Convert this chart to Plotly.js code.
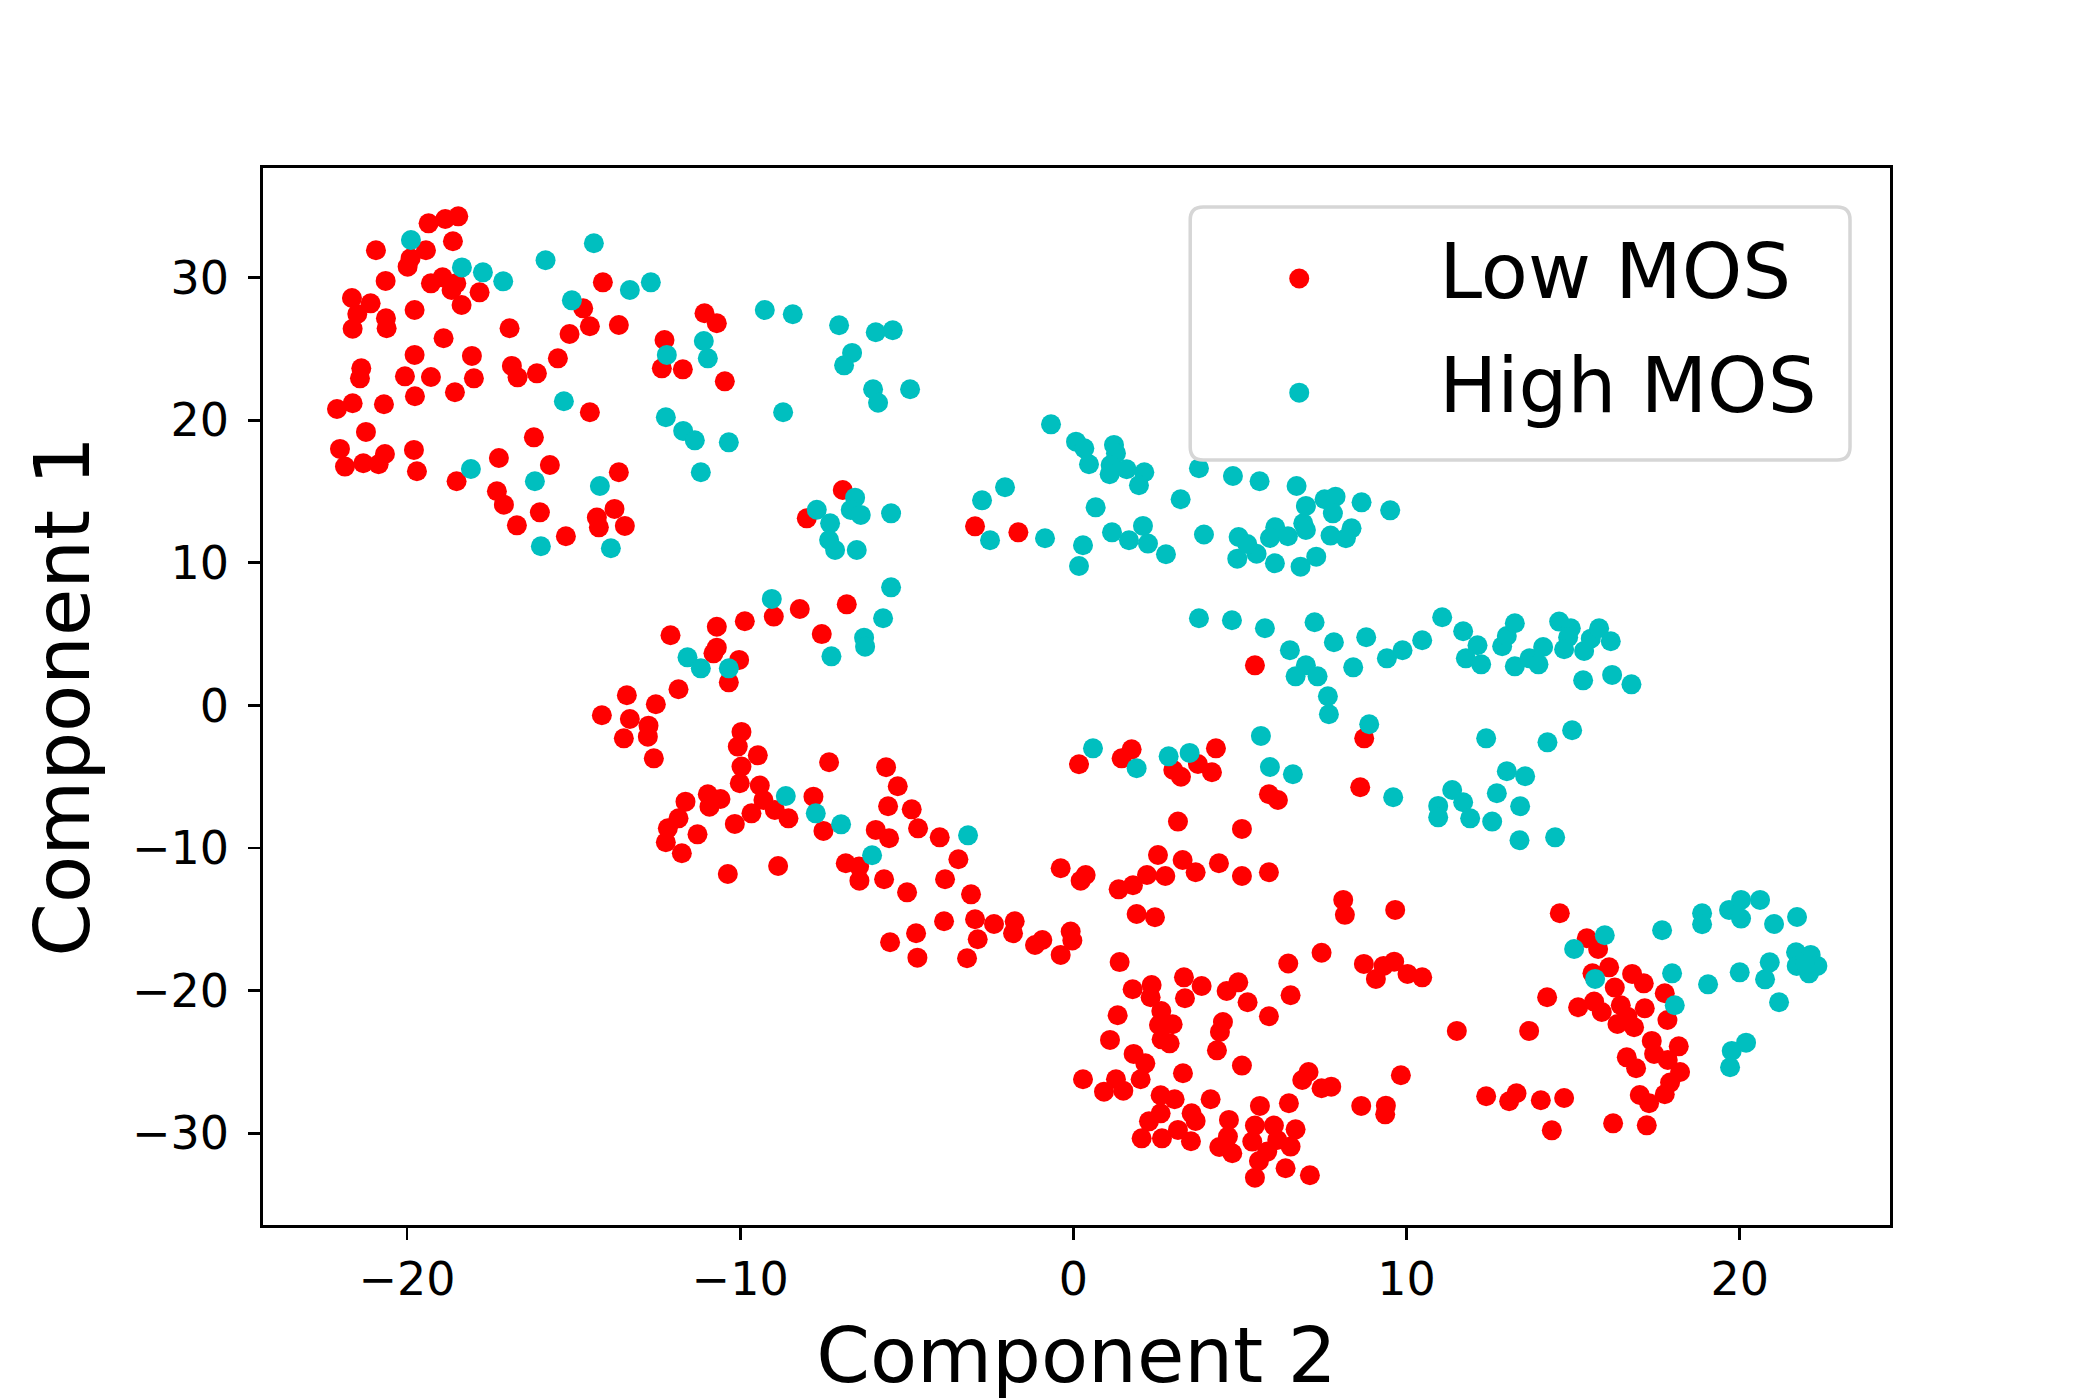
<!DOCTYPE html>
<html>
<head>
<meta charset="utf-8">
<script src="https://cdn.plot.ly/plotly-3.0.1.min.js"></script>
<style>html,body{margin:0;padding:0;background:#fff;}#chart{width:2100px;height:1400px;}</style>
</head>
<body>
<div id="chart"></div>
<script>
// Series names
const seriesNames = ["Low MOS", "High MOS"];
const seriesColors = ["#ff0000", "#00bfbf"];

// Low MOS points (Component 2 = x, Component 1 = y)
const lowX = [
-19.35,-18.85,-18.46,-18.62,-20.93,-19.43,-19.89,-19.98,-20.64,-19.28,-18.93,-18.52,-18.66,-17.82,-18.36,-21.65,-21.09,-21.49,-20.63,-21.63,
-20.61,-19.77,-18.90,-16.92,-14.71,-14.12,-14.51,-15.12,-13.64,-15.47,-18.05,-19.77,-21.37,-21.41,-20.06,-19.28,-17.99,-16.85,-16.68,-16.10,
-19.76,-18.56,-21.63,-22.10,-20.69,-14.51,-12.27,-11.07,-10.70,-12.35,-11.72,-10.46,-21.23,-22.01,-20.66,-21.86,-21.31,-20.85,-19.79,-19.70,
-16.19,-17.24,-15.71,-18.51,-17.30,-17.09,-16.01,-16.70,-15.23,-13.64,-14.30,-14.24,-13.77,-13.46,-8.00,
-6.92,-2.95,-1.65,
-8.99,-8.21,-9.86,-10.70,-12.09,-10.70,-10.80,-10.03,-10.34,-11.85,-13.40,-12.53,-14.15,-13.31,-12.75,-12.77,-13.49,-12.59,-9.96,-10.07,
-9.47,-9.96,-10.01,-9.41,-9.30,-8.96,-8.55,-9.66,-10.16,-10.97,-10.59,-10.92,-11.64,-11.85,-12.17,-12.23,-11.75,-11.28,-10.37,-8.86,
-7.80,-7.50,-7.55,
-6.80,5.45,-7.33,-5.62,-5.27,-5.56,-4.85,-5.93,-5.53,-4.66,-4.01,-3.45,-6.83,-6.43,-6.42,-5.68,-4.99,-3.85,-3.07,-3.88,
-2.95,-2.38,-1.76,-1.81,-2.87,-4.72,-5.50,-4.68,-3.19,-1.15,-0.93,-0.08,-0.03,-0.38,1.39,6.45,7.45,8.10,8.15,
0.17,1.45,1.75,3.00,3.23,3.74,4.16,4.28,5.87,6.14,3.14,5.06,-0.38,0.37,0.22,1.36,1.79,2.21,2.54,2.76,
3.28,3.67,4.37,5.06,5.87,1.90,2.45,
8.73,8.61,9.66,14.60,15.41,15.75,
6.52,1.78,2.35,2.32,3.32,3.35,3.85,4.60,4.95,5.23,5.87,1.33,2.64,2.57,2.98,2.65,2.89,1.10,4.49,4.40,
4.31,5.06,1.81,2.16,2.02,3.29,0.29,1.28,0.92,1.50,2.62,3.04,4.12,2.62,2.27,2.05,2.66,3.14,3.53,3.55,
3.67,4.67,4.64,4.38,4.77,5.45,5.37,6.02,5.82,6.12,6.52,6.67,5.57,5.45,6.37,7.10,5.60,6.47,6.87,7.06,
7.45,7.74,
8.72,9.31,9.63,9.08,10.03,10.47,11.51,13.68,9.83,8.64,9.38,9.36,12.39,13.08,13.30,14.03,14.73,14.36,14.22,15.15,
15.63,15.86,15.58,16.08,16.25,16.77,17.12,17.75,16.43,17.15,16.63,16.33,16.83,17.83,17.36,18.17,17.43,17.84,16.61,16.89,
18.21,17.91,17.75,17.00,17.28,16.20,17.21
];
const lowY = [
33.81,34.11,34.30,32.55,31.92,31.92,31.36,30.77,29.77,29.60,30.02,29.60,29.13,28.97,28.08,28.57,28.20,27.45,27.15,26.42,
26.45,27.73,25.75,26.45,27.85,29.67,26.59,26.05,26.68,24.34,24.51,24.58,23.64,22.94,23.08,23.03,22.94,23.81,23.01,23.29,
21.68,21.96,21.19,20.79,21.12,20.56,25.63,27.50,26.80,23.64,23.57,22.73,19.18,17.99,17.63,16.75,16.98,16.91,17.92,16.42,
18.80,17.35,16.86,15.72,15.02,14.08,13.54,12.63,11.86,16.35,13.17,12.49,13.78,12.59,13.12,
15.11,12.56,12.14,
6.23,6.76,5.90,5.52,4.92,4.05,3.65,3.19,1.62,1.13,0.71,0.08,-0.69,-0.95,-1.42,-2.19,-2.31,-3.71,-1.86,-2.89,
-3.50,-4.29,-5.46,-5.62,-6.63,-7.33,-7.92,-7.57,-8.31,-6.23,-6.56,-7.10,-6.75,-7.92,-8.62,-9.60,-10.37,-9.04,-11.82,-11.26,
-6.40,-8.80,5.00,
7.09,2.81,-3.99,-4.34,-5.67,-7.07,-7.29,-8.73,-9.32,-8.62,-9.25,-10.79,-11.07,-11.30,-12.29,-12.19,-13.11,-12.19,-13.25,-15.14,
-15.00,-15.33,-15.14,-15.98,-16.40,-15.98,-16.61,-17.69,-17.73,-16.80,-16.45,-15.86,-16.49,-17.50,-18.00,-18.10,-17.35,-13.64,-14.69,
-4.13,-3.71,-3.08,-4.53,-5.00,-4.11,-4.69,-3.01,-6.23,-6.63,-8.15,-8.66,-11.42,-11.89,-12.29,-12.90,-12.61,-11.89,-10.49,-11.96,
-10.84,-11.70,-11.07,-11.96,-11.70,-14.63,-14.86,
-2.31,-5.74,-14.34,-14.58,-16.33,-17.08,
-20.33,-19.91,-19.61,-20.47,-19.07,-20.54,-19.68,-20.03,-19.42,-20.82,-21.80,-21.73,-21.43,-22.41,-22.36,-23.42,-23.70,-23.46,-22.20,-22.90,
-24.19,-25.26,-24.44,-25.10,-26.22,-25.80,-26.22,-26.22,-27.09,-27.02,-27.34,-27.62,-27.62,-28.61,-29.17,-30.36,-30.36,-29.77,-30.57,-28.61,
-29.14,-29.07,-30.24,-30.97,-31.41,-29.47,-30.59,-29.47,-31.29,-30.47,-30.94,-29.73,-31.95,-33.12,-32.46,-32.95,-28.09,-27.90,-26.27,-25.71,
-26.85,-26.74,
-18.13,-18.27,-17.97,-19.18,-18.83,-19.07,-22.83,-22.83,-25.94,-28.09,-28.07,-28.68,-27.41,-27.76,-27.20,-27.69,-27.53,-29.80,-20.47,-21.17,
-20.77,-21.50,-18.79,-18.37,-19.79,-18.83,-19.49,-20.19,-21.03,-21.24,-21.83,-22.34,-22.57,-22.06,-23.53,-23.91,-24.44,-24.87,-24.68,-25.45,
-25.71,-26.45,-27.27,-27.32,-27.90,-29.31,-29.45
];

// High MOS points
const highX = [
-19.88,-18.35,-17.72,-17.11,-15.84,-14.39,-15.05,-13.31,-12.68,-11.09,-12.20,-10.97,-9.26,-8.42,-15.29,-8.71,-12.23,-11.71,-11.36,-10.34,
-11.18,-18.08,-16.16,-14.21,-15.98,-13.88,
-7.03,-5.93,-5.42,-6.64,-6.88,-6.01,-5.86,-4.90,-0.67,0.08,0.33,1.22,1.28,0.47,1.12,1.09,1.60,2.13,1.97,3.77,
4.79,5.59,6.70,3.22,0.67,-2.05,-2.74,-2.50,-0.85,0.29,0.17,1.16,2.09,1.67,2.24,2.78,3.92,4.96,4.92,5.50,
5.22,6.06,5.90,6.44,6.90,6.98,6.98,7.54,7.87,7.79,7.72,7.29,6.82,6.05,-6.55,-6.68,-6.38,-5.47,-7.30,-7.70,
-7.33,-7.15,-6.50,
8.65,9.51,8.35,8.18,
-5.47,-5.71,-6.28,-6.25,-7.26,3.77,4.76,5.75,7.24,7.82,6.50,6.98,6.67,7.33,7.64,7.67,5.63,5.90,6.59,0.59,
1.90,2.86,3.49,-6.97,-7.73,-3.16,-6.04,
8.79,8.40,9.41,9.88,10.47,11.07,11.70,12.13,11.78,12.24,12.87,13.01,13.25,13.25,13.69,13.96,14.10,14.58,14.93,14.85,
14.73,15.33,15.53,15.78,16.13,15.30,16.17,16.75,8.88,12.39,14.23,14.97,13.01,13.56,12.71,11.37,11.70,10.95,10.95,11.91,
12.57,13.41,13.39,14.46,9.60,17.67,18.87,18.87,19.68,20.04,20.04,20.61,21.03,21.72,15.95,15.03,
-9.05,-11.58,-11.18,-10.34,-8.63,
15.66,17.97,18.05,19.05,20.00,20.90,20.76,21.18,21.69,22.13,21.71,22.08,22.33,21.96,20.19,19.76,19.71
];
const highY = [
32.64,30.72,30.37,29.74,31.22,32.41,28.41,29.13,29.67,25.56,24.58,24.34,27.73,27.43,21.33,20.56,20.21,19.25,18.59,18.45,
16.35,16.58,15.72,15.39,11.16,11.02,
26.66,26.17,26.31,24.72,23.85,22.17,21.23,22.17,19.71,18.50,18.03,18.27,17.68,16.91,16.86,16.21,16.56,16.35,15.44,16.63,
16.09,15.72,15.39,14.46,13.89,15.30,14.38,11.58,11.72,11.23,9.78,12.14,12.59,11.58,11.35,10.60,11.99,11.81,10.29,10.64,
11.32,12.49,11.74,11.86,12.77,12.30,13.99,14.46,14.64,13.47,11.91,10.43,9.73,9.97,14.57,13.71,13.36,13.47,12.77,13.72,
11.60,10.90,10.90,
14.24,13.68,12.42,11.72,
8.28,6.11,4.75,4.12,3.44,6.11,5.97,5.41,5.83,4.43,3.87,2.81,2.04,2.04,0.64,-0.62,-2.14,-4.32,-4.83,-3.01,
-4.41,-3.57,-3.33,-8.34,-7.57,-9.11,-10.51,
4.78,2.67,3.30,3.87,4.57,6.18,5.20,4.22,3.30,2.88,4.15,4.87,5.76,2.74,3.30,2.88,4.10,5.88,5.41,4.78,
3.94,3.82,4.68,5.41,4.50,1.76,2.14,1.48,-1.32,-2.31,-2.59,-1.74,-4.62,-4.97,-6.16,-5.93,-6.79,-7.05,-7.85,-7.92,
-8.15,-7.07,-9.46,-9.25,-6.44,-15.77,-14.58,-15.35,-14.34,-13.64,-14.95,-13.64,-15.33,-14.84,-16.12,-17.08,
7.47,3.37,2.60,2.60,-6.35,
-19.18,-18.79,-21.03,-19.56,-18.72,-18.02,-19.21,-20.82,-17.31,-17.50,-18.27,-18.79,-18.27,-18.13,-23.65,-24.23,-25.38
];

// Axis ticks
const xTicks = [-20, -10, 0, 10, 20];
const yTicks = [-30, -20, -10, 0, 10, 20, 30];
const xTitle = "Component 2";
const yTitle = "Component 1";

const FONT = "DejaVu Sans, Liberation Sans, sans-serif";
const MARKER_PX = 20;

const traces = [
  {x: lowX, y: lowY, name: seriesNames[0], legendgroup: "a", type: "scatter", mode: "markers",
   marker: {color: seriesColors[0], size: MARKER_PX, line: {width: 0}}},
  {x: highX, y: highY, name: seriesNames[1], legendgroup: "b", type: "scatter", mode: "markers",
   marker: {color: seriesColors[1], size: MARKER_PX, line: {width: 0}}}
];

// legend frame (rounded) in paper coords
const PL = 262.5, PR = 1890, PT = 168, PB = 1225;
function px2x(p){ return (p - PL) / (PR - PL); }
function py2y(p){ return (PB - p) / (PB - PT); }
const bx0 = px2x(1190), bx1 = px2x(1850), by1 = py2y(207), by0 = py2y(460);
const rx = 13 / (PR - PL), ry = 13 / (PB - PT);
const framePath = `M ${bx0+rx},${by0} L ${bx1-rx},${by0} Q ${bx1},${by0} ${bx1},${by0+ry} L ${bx1},${by1-ry} Q ${bx1},${by1} ${bx1-rx},${by1} L ${bx0+rx},${by1} Q ${bx0},${by1} ${bx0},${by1-ry} L ${bx0},${by0+ry} Q ${bx0},${by0} ${bx0+rx},${by0} Z`;

const axisCommon = {
  showline: true, mirror: true, linecolor: "#000", linewidth: 2.8,
  ticks: "outside", ticklen: 12, tickwidth: 2.8, tickcolor: "#000",
  showgrid: false, zeroline: false,
  tickfont: {family: FONT, size: 46, color: "#000"}
};

const layout = {
  width: 2100, height: 1400,
  margin: {l: PL, r: 2100 - PR, t: PT, b: 1400 - PB, pad: 0},
  paper_bgcolor: "#fff", plot_bgcolor: "#fff",
  font: {family: FONT, color: "#000"},
  xaxis: Object.assign({}, axisCommon, {
    range: [-24.32, 24.51], tickmode: "array", tickvals: xTicks, ticklabelstandoff: 0,
    title: {text: xTitle, font: {family: FONT, size: 77, color: "#000"}, standoff: 29}
  }),
  yaxis: Object.assign({}, axisCommon, {
    range: [-36.44, 37.69], tickmode: "array", tickvals: yTicks, ticklabelstandoff: 10,
    title: {text: yTitle, font: {family: FONT, size: 77, color: "#000"}, standoff: 17}
  }),
  showlegend: true,
  legend: {
    x: px2x(1159), y: py2y(211), xanchor: "left", yanchor: "top",
    bgcolor: "rgba(0,0,0,0)", borderwidth: 0,
    font: {family: FONT, size: 77, color: "#000"},
    itemwidth: 270, traceorder: "grouped", tracegroupgap: 11
  },
  shapes: [{type: "path", xref: "paper", yref: "paper", path: framePath,
            line: {color: "#d6d6d6", width: 3.5}, fillcolor: "rgba(255,255,255,0.8)", layer: "above"}]
};

Plotly.newPlot("chart", traces, layout, {staticPlot: true, displayModeBar: false}).then(function (gd) {
  // legend symbols are clamped by Plotly; draw them at the plotted marker size,
  // sitting slightly below the text centre as in the reference legend
  const r = MARKER_PX / 2, dy = 11;
  gd.querySelectorAll(".legend .legendpoints path.scatterpts").forEach(function (p) {
    p.setAttribute("d", "M" + r + "," + dy + "A" + r + "," + r + " 0 1,1 0," + (dy - r) +
                        "A" + r + "," + r + " 0 0,1 " + r + "," + dy + "Z");
  });
});
</script>
</body>
</html>
